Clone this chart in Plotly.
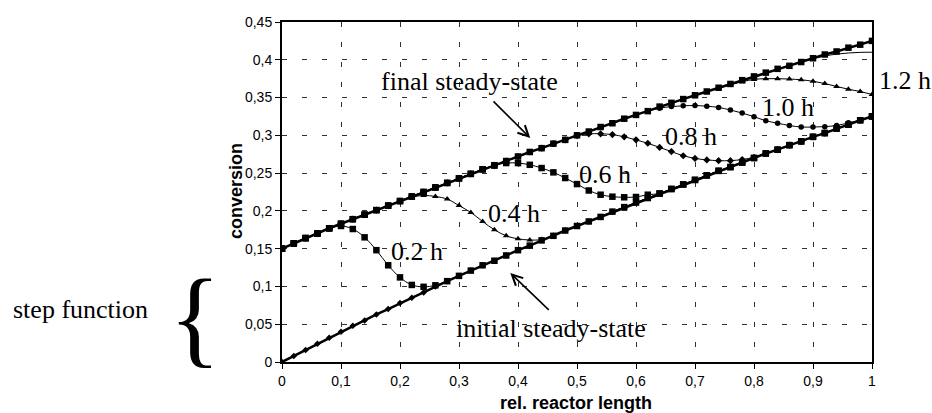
import plotly.graph_objects as go

# relative reactor length, every 0.02
x_len = [round(i * 0.02, 2) for i in range(51)]

final_ss = [0.150, 0.157, 0.164, 0.170, 0.177, 0.183, 0.189, 0.195, 0.201, 0.207,
            0.213, 0.219, 0.225, 0.231, 0.237, 0.243, 0.249, 0.255, 0.260, 0.266,
            0.272, 0.278, 0.283, 0.289, 0.294, 0.300, 0.305, 0.311, 0.316, 0.322,
            0.327, 0.332, 0.338, 0.343, 0.348, 0.353, 0.358, 0.363, 0.368, 0.373,
            0.378, 0.383, 0.388, 0.392, 0.397, 0.402, 0.407, 0.411, 0.416, 0.420,
            0.425]

initial_ss = [0.000, 0.008, 0.016, 0.024, 0.032, 0.040, 0.048, 0.055, 0.063, 0.070,
              0.078, 0.085, 0.092, 0.100, 0.107, 0.114, 0.121, 0.128, 0.134, 0.141,
              0.148, 0.154, 0.161, 0.167, 0.174, 0.180, 0.186, 0.192, 0.199, 0.205,
              0.211, 0.217, 0.223, 0.229, 0.235, 0.241, 0.247, 0.253, 0.258, 0.264,
              0.270, 0.276, 0.281, 0.287, 0.292, 0.298, 0.303, 0.309, 0.314, 0.320,
              0.325]

# transient front sections (values read between the two steady states)
wave_02 = [0.180, 0.176, 0.165, 0.148, 0.128, 0.112, 0.102, 0.0995, 0.1015, 0.107]      # x 0.10..0.28
wave_04 = [0.218, 0.2205, 0.219, 0.2157, 0.207, 0.198, 0.186, 0.175, 0.167, 0.163,
           0.1615, 0.162, 0.167]                                                          # x 0.22..0.46
wave_06 = [0.2605, 0.2633, 0.2633, 0.261, 0.2567, 0.251, 0.2435, 0.2355, 0.227, 0.2214,
           0.2188, 0.218, 0.2184, 0.2214]                                                 # x 0.36..0.62
wave_08 = [0.294, 0.2995, 0.302, 0.302, 0.301, 0.298, 0.294, 0.2895, 0.284, 0.2785,
           0.273, 0.2695, 0.2675, 0.2665, 0.2665, 0.268, 0.271]                           # x 0.48..0.80
wave_10 = [0.332, 0.336, 0.338, 0.339, 0.3395, 0.3385, 0.337, 0.3335, 0.3295, 0.3247,
           0.3193, 0.316, 0.313, 0.311, 0.311, 0.3115, 0.313, 0.3165]                     # x 0.62..0.96
wave_12 = [0.3625, 0.367, 0.371, 0.374, 0.375, 0.375, 0.3745, 0.3735, 0.3715, 0.3685,
           0.3647, 0.361, 0.358, 0.354]                                                   # x 0.74..1.00
wave_14 = [0.4015, 0.405, 0.4075, 0.409, 0.4098, 0.410]                                   # x 0.90..1.00

t_02 = final_ss[:5] + wave_02 + initial_ss[15:]
t_04 = final_ss[:11] + wave_04 + initial_ss[24:]
t_06 = final_ss[:18] + wave_06 + initial_ss[32:]
t_08 = final_ss[:24] + wave_08 + initial_ss[41:]
t_10 = final_ss[:31] + wave_10 + initial_ss[49:]
t_12 = final_ss[:37] + wave_12
t_14 = final_ss[:45] + wave_14

x_ticks = [0, 0.1, 0.2, 0.3, 0.4, 0.5, 0.6, 0.7, 0.8, 0.9, 1]
x_ticktext = ["0", "0,1", "0,2", "0,3", "0,4", "0,5", "0,6", "0,7", "0,8", "0,9", "1"]
y_ticks = [0, 0.05, 0.1, 0.15, 0.2, 0.25, 0.3, 0.35, 0.4, 0.45]
y_ticktext = ["0", "0,05", "0,1", "0,15", "0,2", "0,25", "0,3", "0,35", "0,4", "0,45"]

fig = go.Figure()

fig.add_trace(go.Scatter(x=x_len, y=final_ss, mode="lines+markers",
                         line=dict(color="black", width=2.5),
                         marker=dict(symbol="square", size=6.5, color="black")))
fig.add_trace(go.Scatter(x=x_len, y=initial_ss, mode="lines+markers",
                         line=dict(color="black", width=2.5),
                         marker=dict(symbol="diamond", size=5, color="black")))

trans = [
    (t_14, None, 0),
    (t_02, "square", 6.5),
    (t_04, "triangle-up", 6),
    (t_06, "square", 6.5),
    (t_08, "diamond", 5.5),
    (t_10, "circle", 5.5),
    (t_12, "triangle-up", 6),
]
for ys, sym, sz in trans:
    if sym is None:
        fig.add_trace(go.Scatter(x=x_len, y=ys, mode="lines",
                                 line=dict(color="black", width=1, shape="spline")))
    else:
        fig.add_trace(go.Scatter(x=x_len, y=ys, mode="lines+markers",
                                 line=dict(color="black", width=1, shape="spline"),
                                 marker=dict(symbol=sym, size=sz, color="black")))

serif = dict(family="Liberation Serif, Times New Roman, serif", size=26, color="black")
labels = [
    ("0.2 h", 0.229, 0.146),
    ("0.4 h", 0.394, 0.197),
    ("0.6 h", 0.548, 0.248),
    ("0.8 h", 0.694, 0.2988),
    ("1.0 h", 0.858, 0.3372),
    ("final steady-state", 0.3175, 0.371),
    ("initial steady-state", 0.4566, 0.0441),
]
anns = []
for txt, xx, yy in labels:
    anns.append(dict(x=xx, y=yy, xref="x", yref="y", text=txt, showarrow=False,
                     font=serif, xanchor="center", yanchor="middle"))

# label right of the plot frame
anns.append(dict(x=1.056, y=0.8265, xref="paper", yref="paper", text="1.2 h",
                 showarrow=False, font=serif, xanchor="center", yanchor="middle"))

# arrows
anns.append(dict(x=0.4208, y=0.2964, ax=0.3559, ay=0.347, xref="x", yref="y",
                 axref="x", ayref="y", text="", showarrow=True, arrowhead=5,
                 arrowsize=1.3, arrowwidth=1.6, arrowcolor="black"))
anns.append(dict(x=0.3869, y=0.1178, ax=0.4547, ay=0.067, xref="x", yref="y",
                 axref="x", ayref="y", text="", showarrow=True, arrowhead=5,
                 arrowsize=1.3, arrowwidth=1.6, arrowcolor="black"))

# outside text
anns.append(dict(x=-0.342, y=0.153, xref="paper", yref="paper", text="step function",
                 showarrow=False, font=serif, xanchor="center", yanchor="middle"))
anns.append(dict(x=-0.147, y=0.131, xref="paper", yref="paper", text="{",
                 showarrow=False,
                 font=dict(family="Liberation Serif, Times New Roman, serif", size=108,
                           color="black"),
                 xanchor="center", yanchor="middle"))

sans_b = dict(family="Liberation Sans, Arial, sans-serif", size=18, color="black")
anns.append(dict(x=0.499, y=-0.1206, xref="paper", yref="paper",
                 text="<b>rel. reactor length</b>", showarrow=False, font=sans_b,
                 xanchor="center", yanchor="middle"))
anns.append(dict(x=-0.078, y=0.503, xref="paper", yref="paper",
                 text="<b>conversion</b>", showarrow=False, font=sans_b, textangle=-90,
                 xanchor="center", yanchor="middle"))

tickfont = dict(family="Liberation Sans, Arial, sans-serif", size=14, color="black")
axis_common = dict(showline=True, linecolor="black", linewidth=2, mirror=True,
                   ticks="outside", ticklen=5, tickcolor="black", tickwidth=1,
                   showgrid=True, gridcolor="#333333", gridwidth=1, griddash="5px,15px",
                   zeroline=False, tickfont=tickfont)

fig.update_layout(
    width=932, height=413,
    margin=dict(l=282, r=60, t=22, b=51),
    paper_bgcolor="white", plot_bgcolor="white",
    showlegend=False,
    annotations=anns,
    xaxis=dict(range=[0, 1], tickvals=x_ticks, ticktext=x_ticktext, **axis_common),
    yaxis=dict(range=[0, 0.45], tickvals=y_ticks, ticktext=y_ticktext, **axis_common),
)

fig.write_html("out.html", config={"displayModeBar": False},
               post_script="document.body.style.margin='0';document.body.style.padding='0';")
